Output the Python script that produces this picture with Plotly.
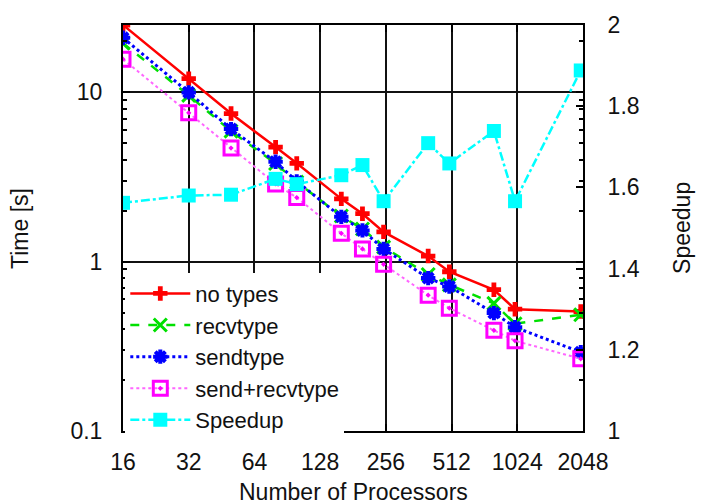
import plotly.graph_objects as go

procs = [16, 32, 50, 80, 100, 160, 200, 250, 400, 500, 800, 1000, 2000]
no_types = [25.0, 12.05, 7.5, 4.75, 3.81, 2.35, 1.92, 1.50, 1.08, 0.872, 0.683, 0.524, 0.508]
recvtype = [19.5, 9.6, 5.9, 3.8, 2.95, 1.86, 1.56, 1.22, 0.84, 0.73, 0.567, 0.43, 0.486]
sendtype = [21.0, 10.0, 6.07, 3.89, 2.98, 1.84, 1.53, 1.19, 0.80, 0.714, 0.497, 0.41, 0.292]
send_recvtype = [15.7, 7.57, 4.69, 2.88, 2.39, 1.47, 1.19, 0.965, 0.634, 0.531, 0.393, 0.341, 0.267]
speedup = [1.562, 1.580, 1.582, 1.621, 1.608, 1.630, 1.655, 1.566, 1.709, 1.659, 1.739, 1.566, 1.888]

x_ticks = [16, 32, 64, 128, 256, 512, 1024, 2048]
y_ticks = [0.1, 1, 10]
y_minor = [m * d for d in (0.1, 1, 10) for m in range(2, 10)]
y2_ticks = [1, 1.2, 1.4, 1.6, 1.8, 2]

FONT = "Liberation Sans, Arial, Helvetica, sans-serif"
FS = 23

fig = go.Figure()
fig.add_trace(go.Scatter(x=procs, y=no_types, name="no types", mode="lines+markers",
                         line=dict(color="#ff0000", width=2.5),
                         marker=dict(symbol="cross", size=12, color="#ff0000")))
fig.add_trace(go.Scatter(x=procs, y=recvtype, name="recvtype", mode="lines+markers",
                         line=dict(color="#00e000", width=2.5, dash="dash"),
                         marker=dict(symbol="x-thin-open", size=13, color="#00e000",
                                     line=dict(color="#00e000", width=3))))
fig.add_trace(go.Scatter(x=procs, y=sendtype, name="sendtype", mode="lines+markers",
                         line=dict(color="#0000ff", width=3, dash="dot"),
                         marker=dict(symbol="asterisk-open", size=12, color="#0000ff",
                                     line=dict(color="#0000ff", width=4))))
fig.add_trace(go.Scatter(x=procs, y=send_recvtype, name="send+recvtype", mode="lines+markers",
                         line=dict(color="#ff66ff", width=2, dash="dot"),
                         marker=dict(symbol="square-open-dot", size=14, color="#ff00ff",
                                     line=dict(color="#ff00ff", width=3))))
fig.add_trace(go.Scatter(x=procs, y=speedup, name="Speedup", mode="lines+markers", yaxis="y2",
                         line=dict(color="#00ffff", width=2.5, dash="dashdot"),
                         marker=dict(symbol="square", size=14, color="#00ffff")))

axis_common = dict(showline=True, linecolor="black", linewidth=2, ticks="inside",
                   tickcolor="black", tickwidth=1.5, zeroline=False,
                   tickfont=dict(family=FONT, size=FS, color="#111111"))

fig.update_layout(
    width=701, height=504, autosize=False,
    margin=dict(l=123, r=118, t=17, b=73),
    paper_bgcolor="white", plot_bgcolor="white",
    font=dict(family=FONT, size=FS, color="#111111"),
    showlegend=True,
    legend=dict(x=0.005, y=0.39, xanchor="left", yanchor="top",
                bgcolor="white", borderwidth=0, itemwidth=60,
                font=dict(family=FONT, size=22, color="#111111"),
                tracegroupgap=0),
    xaxis=dict(type="log", range=[1.2041, 3.3113], tickvals=x_ticks,
               ticktext=[str(v) for v in x_ticks], ticklen=7, mirror="ticks",
               showgrid=True, gridcolor="#111111", gridwidth=1.5,
               ticklabelstandoff=9, **axis_common),
    yaxis=dict(type="log", range=[-1, 1.39794], tickvals=y_ticks,
               ticktext=["0.1", "1", "10"], ticklen=7, mirror="ticks",
               showgrid=True, gridcolor="#111111", gridwidth=1.5,
               minor=dict(tickvals=y_minor, ticks="inside", ticklen=4,
                          tickcolor="black", tickwidth=1.5, showgrid=False),
               ticklabelstandoff=14, **axis_common),
    yaxis2=dict(overlaying="y", side="right", range=[1, 2], tickvals=y2_ticks,
                ticktext=["1", "1.2", "1.4", "1.6", "1.8", "2"], ticklen=7,
                showgrid=False, ticklabelstandoff=18, **axis_common),
    annotations=[
        dict(text="Time [s]", xref="paper", yref="paper", x=-0.224, y=0.5,
             xanchor="center", yanchor="middle", textangle=-90, showarrow=False,
             font=dict(family=FONT, size=FS, color="#111111")),
        dict(text="Speedup", xref="paper", yref="paper", x=1.215, y=0.5,
             xanchor="center", yanchor="middle", textangle=-90, showarrow=False,
             font=dict(family=FONT, size=FS, color="#111111")),
        dict(text="Number of Processors", xref="paper", yref="paper", x=0.5, y=-0.15,
             xanchor="center", yanchor="middle", showarrow=False,
             font=dict(family=FONT, size=FS, color="#111111")),
    ],
)

fig.write_html("out.html", config={"responsive": False, "displayModeBar": False},
               post_script="document.body.style.margin='0px';document.body.style.padding='0px';document.body.style.overflow='hidden';")
